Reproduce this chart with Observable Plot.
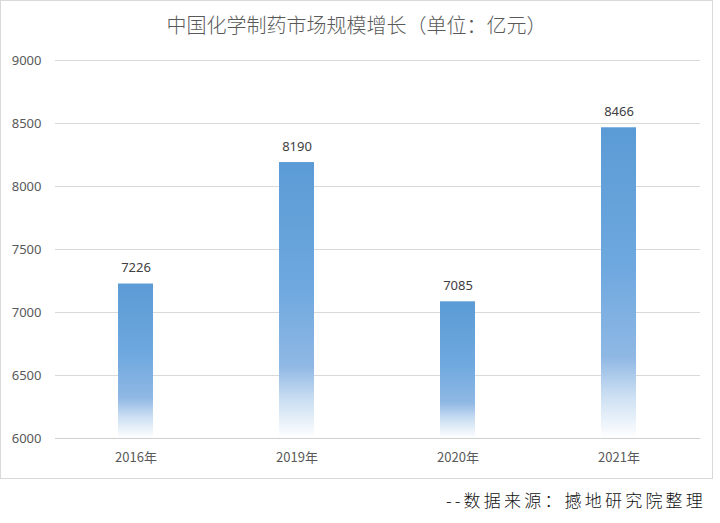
<!DOCTYPE html>
<html>
<head>
<meta charset="utf-8">
<script src="https://cdn.jsdelivr.net/npm/d3@7"></script>
<script src="https://cdn.jsdelivr.net/npm/@observablehq/plot@0.6"></script>
<style>
  html, body { margin: 0; padding: 0; background: #fff; }
  #wrap { position: relative; width: 720px; height: 523px; font-family: "Noto Sans CJK SC", "Noto Sans", sans-serif; }
  #frame { position: absolute; left: 0; top: 0; width: 711px; height: 477px; border: 1px solid #d9d9d9; pointer-events: none; }
  #title { position: absolute; left: 0; top: 10px; width: 713px; text-align: center; font-size: 20px; font-weight: 300; color: #595959; line-height: 30px; }
  #caption { position: absolute; right: 14px; top: 486px; font-size: 17px; font-weight: 300; letter-spacing: 3.2px; color: #111; line-height: 28px; }
  #chart { position: absolute; left: 0; top: 0; }
</style>
</head>
<body>
<div id="wrap">
  <div id="chart"></div>
  <div id="frame"></div>
  <div id="title">中国化学制药市场规模增长（单位：亿元）</div>
  <div id="caption">--数据来源：撼地研究院整理</div>
</div>
<script>
const years = ["2016年", "2019年", "2020年", "2021年"];
const values = [7226, 8190, 7085, 8466];
const yTicks = [6000, 6500, 7000, 7500, 8000, 8500, 9000];

const data = years.map((year, i) => ({year, value: values[i]}));

const defs = () => {
  const d = d3.create("svg:defs");
  const g = d.append("linearGradient")
    .attr("id", "barGrad")
    .attr("x1", "0").attr("y1", "0").attr("x2", "0").attr("y2", "1");
  [[0, "#5b9bd5"], [0.45, "#6ea8df"], [0.74, "#8fb8e4"], [0.86, "#cadef2"], [1, "#ffffff"]]
    .forEach(([o, c]) => g.append("stop").attr("offset", o).attr("stop-color", c));
  return d.node();
};

const chart = Plot.plot({
  width: 713,
  height: 479,
  marginLeft: 55,
  marginRight: 13,
  marginTop: 60,
  marginBottom: 41,
  style: {fontFamily: "'Noto Sans', 'Noto Sans CJK SC', sans-serif", fontSize: "13px", color: "#595959", background: "transparent"},
  x: {domain: years, paddingInner: 0.78, paddingOuter: 0.39, label: null},
  y: {domain: [6000, 9000], label: null},
  marks: [
    defs,
    Plot.ruleY(yTicks.slice(1), {stroke: "#d9d9d9", strokeWidth: 1}),
    Plot.barY(data, {x: "year", y1: 6000, y2: "value", fill: "url(#barGrad)"}),
    Plot.ruleY([6000], {stroke: "#d0d0d0", strokeWidth: 1}),
    Plot.text(data, {x: "year", y: "value", text: d => String(d.value), dy: -16, fill: "#404040", fontSize: 13}),
    Plot.axisY({ticks: yTicks, tickSize: 0, tickPadding: 14, tickFormat: d => String(d), fill: "#595959", fontSize: 13}),
    Plot.axisX({tickSize: 0, tickPadding: 14, fill: "#595959", fontSize: 13, fontFamily: "'Noto Sans CJK SC', sans-serif"})
  ]
});
document.getElementById("chart").appendChild(chart);
</script>
</body>
</html>
